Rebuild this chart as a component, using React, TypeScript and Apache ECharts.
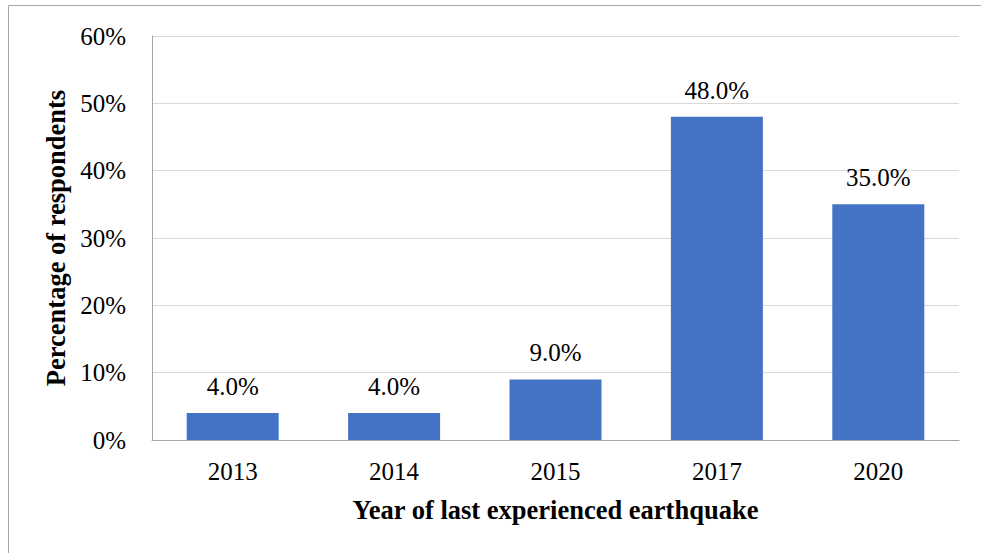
import React, { useEffect, useRef } from "react";
import * as echarts from "echarts";

const categories = ["2013", "2014", "2015", "2017", "2020"];
const values = [4.0, 4.0, 9.0, 48.0, 35.0];
const yTicks = [0, 10, 20, 30, 40, 50, 60];

const FONT = "Liberation Serif, Times New Roman, serif";

export default function App() {
  const ref = useRef<HTMLDivElement>(null);
  useEffect(() => {
    if (!ref.current) return;
    const chart = echarts.init(ref.current, undefined, { renderer: "svg" });
    chart.setOption({
      animation: false,
      backgroundColor: "#ffffff",
      graphic: [
        {
          type: "rect",
          shape: { x: 8.5, y: 5.5, width: 1000, height: 600 },
          style: { fill: "none", stroke: "#a6a6a6", lineWidth: 1 },
          silent: true,
        },
      ],
      grid: { left: 152, right: 22, top: 36, bottom: 113 },
      xAxis: {
        type: "category",
        data: categories,
        axisLine: { show: true, lineStyle: { color: "#a6a6a6", width: 1 } },
        axisTick: { show: false },
        axisLabel: { fontFamily: FONT, fontSize: 25, color: "#000", margin: 19 },
        name: "Year of last experienced earthquake",
        nameLocation: "middle",
        nameGap: 56,
        nameTextStyle: { fontFamily: FONT, fontSize: 26.5, fontWeight: "bold", color: "#000" },
      },
      yAxis: {
        type: "value",
        min: yTicks[0],
        max: yTicks[yTicks.length - 1],
        interval: 10,
        axisLine: { show: true, lineStyle: { color: "#a6a6a6", width: 1 } },
        axisTick: { show: false },
        splitLine: { show: true, lineStyle: { color: "#d9d9d9", width: 1 } },
        axisLabel: {
          fontFamily: FONT,
          fontSize: 25,
          color: "#000",
          margin: 26,
          formatter: (v: number) => `${v}%`,
        },
        name: "Percentage of respondents",
        nameLocation: "middle",
        nameGap: 80,
        nameTextStyle: { fontFamily: FONT, fontSize: 26.5, fontWeight: "bold", color: "#000" },
      },
      series: [
        {
          type: "bar",
          data: values,
          barWidth: "57%",
          itemStyle: { color: "#4472C4" },
          label: {
            show: true,
            position: "top",
            distance: 14,
            fontFamily: FONT,
            fontSize: 25,
            color: "#000",
            formatter: (p: any) => `${Number(p.value).toFixed(1)}%`,
          },
        },
      ],
    });
    return () => chart.dispose();
  }, []);
  return (
    <div
      ref={ref}
      style={{ position: "fixed", left: 0, top: 0, width: 981, height: 553 }}
    />
  );
}
